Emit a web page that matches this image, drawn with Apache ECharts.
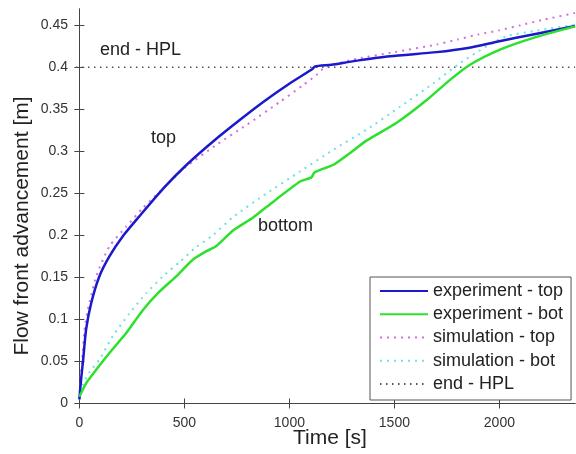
<!DOCTYPE html>
<html>
<head>
<meta charset="utf-8">
<script src="https://cdn.jsdelivr.net/npm/echarts@6/dist/echarts.min.js"></script>
<style>
  html, body { margin: 0; padding: 0; background: #fff; }
  #main { width: 576px; height: 454px; }
</style>
</head>
<body>
<div id="main"></div>
<script>
// experiment - top (blue)
var expTopT = [0, 8, 18, 32, 56, 95, 143, 207, 290, 400, 511, 638, 765, 877, 1003, 1110, 1122, 1200, 1300, 1480, 1700, 1850, 2000, 2160, 2360];
var expTopV = [0.005, 0.028, 0.052, 0.088, 0.119, 0.151, 0.175, 0.199, 0.224, 0.256, 0.284, 0.312, 0.3375, 0.359, 0.381, 0.398, 0.401, 0.403, 0.407, 0.413, 0.418, 0.423, 0.431, 0.439, 0.449];
// experiment - bot (green)
var expBotT = [0, 32, 80, 143, 222, 302, 381, 460, 540, 603, 651, 733, 826, 892, 1051, 1105, 1120, 1210, 1289, 1369, 1511, 1654, 1765, 1860, 2003, 2162, 2360];
var expBotV = [0.008, 0.024, 0.040, 0.060, 0.0835, 0.111, 0.133, 0.151, 0.171, 0.181, 0.187, 0.206, 0.221, 0.234, 0.264, 0.269, 0.275, 0.284, 0.298, 0.313, 0.334, 0.361, 0.385, 0.403, 0.421, 0.435, 0.4486];
// simulation - top (magenta dotted)
var simTopT = [0, 8, 16, 24, 40, 80, 143, 222, 300, 400, 500, 654, 797, 956, 1067, 1130, 1170, 1300, 1500, 1700, 1800, 1900, 2000, 2100, 2200, 2360];
var simTopV = [0.005, 0.035, 0.060, 0.087, 0.111, 0.151, 0.187, 0.210, 0.232, 0.256, 0.280, 0.308, 0.3315, 0.359, 0.379, 0.391, 0.400, 0.409, 0.418, 0.427, 0.433, 0.439, 0.444, 0.450, 0.456, 0.4645];
// simulation - bot (cyan dotted)
var simBotT = [0, 16, 50, 95, 159, 238, 318, 397, 476, 556, 635, 733, 892, 1051, 1210, 1369, 1527, 1686, 1813, 1940, 2035, 2162, 2360];
var simBotV = [0.005, 0.022, 0.038, 0.052, 0.080, 0.107, 0.131, 0.151, 0.168, 0.186, 0.200, 0.222, 0.250, 0.276, 0.302, 0.326, 0.353, 0.381, 0.405, 0.425, 0.437, 0.443, 0.4506];
// end - HPL
var hplT = [-16, 2360];
var hplV = [0.4, 0.4];

var xTicks = [0, 500, 1000, 1500, 2000];
var yTicks = [0, 0.05, 0.1, 0.15, 0.2, 0.25, 0.3, 0.35, 0.4, 0.45];
var names = ['experiment - top', 'experiment - bot', 'simulation - top', 'simulation - bot', 'end - HPL'];

var FONT = '"Liberation Sans", Arial, Helvetica, sans-serif';

function pairs(t, v) {
    var out = [];
    for (var i = 0; i < t.length; i++) {
        out.push([t[i], v[i]]);
    }
    return out;
}

var frame = { show: true, lineStyle: { color: '#444', width: 1 } };
var tickIn = function (vals) {
    return { show: true, inside: true, length: 5, customValues: vals, lineStyle: { color: '#444' } };
};
var plain = function (val) { return String(val); };

var myChart = echarts.init(document.getElementById('main'));
var option = {
    animation: false,
    backgroundColor: '#fff',
    grid: { left: 76, top: 9, right: 1, bottom: 47.5, outerBoundsMode: 'none' },
    xAxis: [{
        type: 'value', min: -16, max: 2360,
        axisLine: frame, axisTick: tickIn(xTicks), splitLine: { show: false },
        axisLabel: { customValues: xTicks, formatter: plain, margin: 10, fontSize: 14, color: '#333', fontFamily: FONT }
    }, {
        type: 'value', position: 'top', min: -16, max: 2360,
        axisLine: frame, axisTick: tickIn(xTicks), splitLine: { show: false },
        axisLabel: { show: false }
    }],
    yAxis: [{
        type: 'value', min: -0.0036, max: 0.4693,
        axisLine: frame, axisTick: tickIn(yTicks), splitLine: { show: false },
        axisLabel: { customValues: yTicks, formatter: plain, margin: 8, fontSize: 14, color: '#333', fontFamily: FONT }
    }, {
        type: 'value', position: 'right', min: -0.0036, max: 0.4693,
        axisLine: frame, axisTick: tickIn(yTicks), splitLine: { show: false },
        axisLabel: { show: false }
    }],
    legend: {
        data: names,
        orient: 'vertical',
        left: 370, top: 277,
        padding: [5, 8, 7, 9],
        itemWidth: 48, itemHeight: 16, itemGap: 5.25,
        itemStyle: { opacity: 0 },
        backgroundColor: '#fff',
        borderColor: '#555', borderWidth: 1,
        textStyle: { fontSize: 18, color: '#222', fontFamily: FONT, lineHeight: 16 }
    },
    series: [{
        name: names[0], type: 'line', symbol: 'none', z: 4, smooth: 0.2,
        data: pairs(expTopT, expTopV),
        lineStyle: { color: '#1a1acc', width: 2.5 }, itemStyle: { color: '#1a1acc' }
    }, {
        name: names[1], type: 'line', symbol: 'none', z: 4, smooth: 0.2,
        data: pairs(expBotT, expBotV),
        lineStyle: { color: '#2ee02e', width: 2.5 }, itemStyle: { color: '#2ee02e' }
    }, {
        name: names[2], type: 'line', symbol: 'none', z: 3, smooth: 0.2,
        data: pairs(simTopT, simTopV),
        lineStyle: { color: '#d26ee0', width: 2, type: [2, 5] }, itemStyle: { color: '#d26ee0' }
    }, {
        name: names[3], type: 'line', symbol: 'none', z: 3, smooth: 0.2,
        data: pairs(simBotT, simBotV),
        lineStyle: { color: '#6ee0e6', width: 2, type: [2, 5] }, itemStyle: { color: '#6ee0e6' }
    }, {
        name: names[4], type: 'line', symbol: 'none', z: 2,
        data: pairs(hplT, hplV),
        lineStyle: { color: '#555', width: 1.5, type: [1.5, 4.5] }, itemStyle: { color: '#555' }
    }],
    graphic: [
        { type: 'text', x: 100, y: 50, style: { text: 'end - HPL', font: '18px ' + FONT, fill: '#222', verticalAlign: 'middle' } },
        { type: 'text', x: 151, y: 138, style: { text: 'top', font: '18px ' + FONT, fill: '#222', verticalAlign: 'middle' } },
        { type: 'text', x: 258, y: 226, style: { text: 'bottom', font: '18px ' + FONT, fill: '#222', verticalAlign: 'middle' } },
        { type: 'text', x: 330, y: 438, style: { text: 'Time [s]', font: '21px ' + FONT, fill: '#222', align: 'center', verticalAlign: 'middle' } },
        { type: 'text', x: 22, y: 226, rotation: Math.PI / 2, style: { text: 'Flow front advancement [m]', font: '21px ' + FONT, fill: '#222', align: 'center', verticalAlign: 'middle' } }
    ]
};
myChart.setOption(option);
</script>
</body>
</html>
